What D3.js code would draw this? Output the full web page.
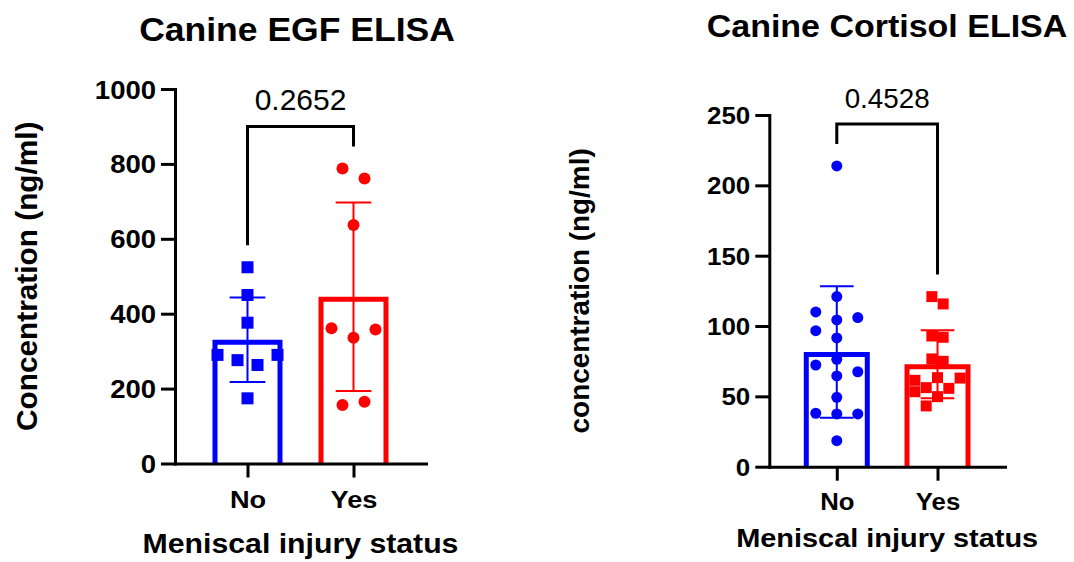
<!DOCTYPE html>
<html>
<head>
<meta charset="utf-8">
<script src="https://cdn.jsdelivr.net/npm/d3@7"></script>
<style>
  body { margin: 0; background: #fff; }
  svg { display: block; }
  text { font-family: "Liberation Sans", Arial, Helvetica, sans-serif; fill: #000; }
</style>
</head>
<body>
<div id="plot"></div>
<script>
// Data
const categories = ["No", "Yes"];

const egfNo  = [524, 450, 376, 174, 263, 276, 290, 290];
const egfYes = [761, 788, 637, 336, 361, 358, 165, 156];
const egfTicks = [0, 200, 400, 600, 800, 1000];
const egfP = "0.2652";

const cortisolNo  = [213.8, 120.9, 104.3, 110, 106, 91.5, 96.7, 76.3, 72.3, 64.5, 67.5, 49.3, 37.5, 38, 37.5, 18.5];
const cortisolYes = [115.7, 120.9, 92, 92.9, 74.9, 76.6, 63.3, 49.8, 56.2, 43.2, 55.7, 53.3, 61.4, 63];
const cortisolTicks = [0, 50, 100, 150, 200, 250];
const cortisolP = "0.4528";

const titles = ["Canine EGF ELISA", "Canine Cortisol ELISA"];
const yLabels = ["Concentration (ng/ml)", "concentration (ng/ml)"];
const xLabel = "Meniscal injury status";

const colors = { No: "#0000ff", Yes: "#ff0000" };

const svg = d3.select("#plot")
  .append("svg")
    .attr("width", 1074)
    .attr("height", 562);

// text helper, sx stretches glyphs horizontally a little (bold labels look wider in the source)
function label(g, x, y, str, size, opts = {}) {
  const rot = opts.rotate ? " rotate(-90)" : "";
  return g.append("text")
    .attr("transform", `translate(${x},${y})${rot} scale(${opts.sx || 1},1)`)
    .attr("text-anchor", opts.anchor || "middle")
    .style("font-size", size + "px")
    .style("font-weight", opts.bold === false ? "normal" : "bold")
    .text(str);
}

// column placement like a scatter dot plot: greedy columns, then each crowded row centred
function swarm(values, y, step, minGap) {
  const placed = [];
  const cands = [0, -1, 1, -2, 2, -3, 3, -4, 4];
  values.forEach(v => {
    const py = y(v);
    const col = cands.find(c => !placed.some(p => p.col === c && Math.abs(p.py - py) < minGap));
    placed.push({ v, py, col });
  });
  const sorted = placed.slice().sort((a, b) => a.py - b.py);
  let cluster = [];
  const flush = () => {
    if (!cluster.length) return;
    const lo = d3.min(cluster, p => p.col), hi = d3.max(cluster, p => p.col);
    cluster.forEach(p => p.off = (p.col - (lo + hi) / 2) * step);
    cluster = [];
  };
  sorted.forEach(p => {
    if (cluster.length && p.py - cluster[cluster.length - 1].py >= minGap) flush();
    cluster.push(p);
  });
  flush();
  return placed;
}

function drawChart(cfg, groups, ticks, title, yLabel, pText) {
  const g = svg.append("g");

  const y = d3.scaleLinear()
    .domain([0, d3.max(ticks)])
    .range([cfg.y0, cfg.y1]);

  const x = d3.scalePoint()
    .domain(categories)
    .range([cfg.x0, cfg.x1])
    .padding(cfg.pad);

  // Bars, error bars, points
  categories.forEach((cat, i) => {
    const vals = groups[i];
    const mean = d3.mean(vals), sd = d3.deviation(vals);
    const xc = x(cat);
    const sw = 5;
    const bl = xc - cfg.barW / 2 + sw / 2, br = xc + cfg.barW / 2 - sw / 2;

    g.append("path")
      .attr("d", `M${bl},${y(0)}V${y(mean) + sw / 2}H${br}V${y(0)}`)
      .attr("fill", "none")
      .attr("stroke", colors[cat])
      .attr("stroke-width", sw);

    const cap = cfg.barW * 0.255;
    g.append("path")
      .attr("d", `M${xc},${y(mean - sd)}V${y(mean + sd)}` +
                 `M${xc - cap},${y(mean + sd)}H${xc + cap}` +
                 `M${xc - cap},${y(mean - sd)}H${xc + cap}`)
      .attr("fill", "none")
      .attr("stroke", colors[cat])
      .attr("stroke-width", 2);

    const shape = cfg.shapes[i];
    const sym = d3.symbol()
      .type(shape === "square" ? d3.symbolSquare : d3.symbolCircle)
      .size(shape === "square" ? cfg.marker[i] * cfg.marker[i] : Math.PI * Math.pow(cfg.marker[i] / 2, 2));

    g.selectAll(null)
      .data(swarm(vals, y, cfg.step[i], cfg.marker[i]))
      .join("path")
        .attr("d", sym)
        .attr("transform", d => `translate(${xc + d.off},${d.py})`)
        .attr("fill", colors[cat]);
  });

  // Y axis
  const yAxis = g.append("g")
    .attr("transform", `translate(${cfg.x0},0)`)
    .call(d3.axisLeft(y).tickValues(ticks).tickSize(14).tickSizeOuter(0).tickPadding(5));
  yAxis.select(".domain").attr("stroke-width", 3).attr("stroke-linecap", "square");
  yAxis.selectAll(".tick line").attr("stroke-width", 3);
  yAxis.selectAll(".tick text").remove();
  yAxis.selectAll(".tick").each(function(d) {
    label(d3.select(this), -19, cfg.tick * 0.36, d, cfg.tick, { anchor: "end", sx: 1.1 });
  });

  // X axis
  const xAxis = g.append("g")
    .attr("transform", `translate(0,${cfg.y0})`)
    .call(d3.axisBottom(x).tickSize(14).tickSizeOuter(0));
  xAxis.select(".domain").attr("stroke-width", 3).attr("stroke-linecap", "square");
  xAxis.selectAll(".tick line").attr("stroke-width", 3);
  xAxis.selectAll(".tick text").remove();
  xAxis.selectAll(".tick").each(function(d) {
    label(d3.select(this), 0, cfg.catY - cfg.y0, d, cfg.cat, { sx: 1.1 });
  });

  // Significance bracket
  const legs = groups.map(vals => {
    const top = Math.max(d3.max(vals), d3.mean(vals) + d3.deviation(vals));
    return y(top) - 22;
  });
  const bracketY = d3.min(legs) - 20;
  const xa = x(categories[0]), xb = x(categories[1]);
  g.append("path")
    .attr("d", `M${xa},${legs[0]}V${bracketY}H${xb}V${legs[1]}`)
    .attr("fill", "none")
    .attr("stroke", "#000")
    .attr("stroke-width", 3);
  label(g, (xa + xb) / 2, bracketY - 16, pText, cfg.p, { bold: false });

  // Titles
  label(g, cfg.titleX, cfg.titleY, title, cfg.title, { sx: 1.1 });
  label(g, cfg.yLabX, (cfg.y0 + cfg.y1) / 2, yLabel, cfg.yLab, { rotate: true });
  label(g, (cfg.x0 + cfg.x1) / 2, cfg.xLabY, xLabel, cfg.xLab, { sx: 1.1 });
}

drawChart({
  x0: 175, x1: 426, y0: 463.5, y1: 89, pad: 0.684, barW: 70,
  shapes: ["square", "circle"], marker: [12, 12], step: [20, 22],
  tick: 25, cat: 24.7, catY: 508, title: 32.3, titleX: 297, titleY: 41,
  yLab: 29.8, yLabX: 36.5, xLab: 27.5, xLabY: 553, p: 30
}, [egfNo, egfYes], egfTicks, titles[0], yLabels[0], egfP);

drawChart({
  x0: 769.3, x1: 1005, y0: 466.7, y1: 115, pad: 0.67, barW: 66,
  shapes: ["circle", "square"], marker: [11, 11], step: [21, 11.3],
  tick: 23.6, cat: 23.4, catY: 510, title: 30.9, titleX: 887, titleY: 37,
  yLab: 27.9, yLabX: 589, xLab: 26.3, xLabY: 546.5, p: 27.8
}, [cortisolNo, cortisolYes], cortisolTicks, titles[1], yLabels[1], cortisolP);
</script>
</body>
</html>
